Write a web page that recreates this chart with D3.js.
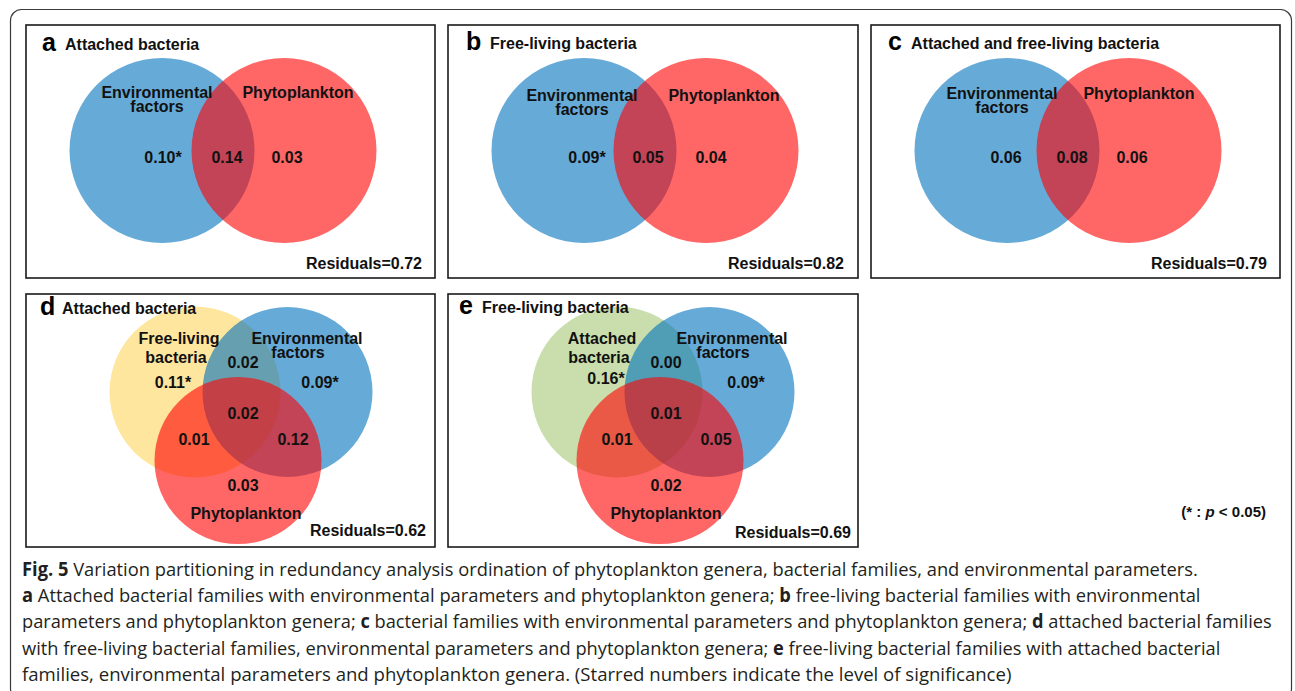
<!DOCTYPE html>
<html>
<head>
<meta charset="utf-8">
<script src="https://cdn.jsdelivr.net/npm/d3@7"></script>
<style>
  html, body { margin: 0; padding: 0; background: #fff; }
  svg { display: block; }
</style>
</head>
<body>
<script>
// ---- data ----
const panelLetters = ["a", "b", "c", "d", "e"];
const panelTitles = ["Attached bacteria", "Free-living bacteria", "Attached and free-living bacteria",
                     "Attached bacteria", "Free-living bacteria"];

// set names (each a list of label lines)
const setsTwo = [["Environmental", "factors"], ["Phytoplankton"]];
const setsD = [["Free-living", "bacteria"], ["Environmental", "factors"], ["Phytoplankton"]];
const setsE = [["Attached", "bacteria"], ["Environmental", "factors"], ["Phytoplankton"]];

// two-set fractions: [environment only, shared, phytoplankton only]
const valuesA = [0.10, 0.14, 0.03];
const valuesB = [0.09, 0.05, 0.04];
const valuesC = [0.06, 0.08, 0.06];
const signifA = [true, false, false];
const signifB = [true, false, false];
const signifC = [false, false, false];

// three-set fractions: [bacteria only, bact∩env, env only, all three, bact∩phyto, env∩phyto, phyto only]
const valuesD = [0.11, 0.02, 0.09, 0.02, 0.01, 0.12, 0.03];
const valuesE = [0.16, 0.00, 0.09, 0.01, 0.01, 0.05, 0.02];
const signifD = [true, false, true, false, false, false, false];
const signifE = [true, false, true, false, false, false, false];

const residuals = [0.72, 0.82, 0.79, 0.62, 0.69];

const captionLines = [
  [["Fig. 5", true], ["  Variation partitioning in redundancy analysis ordination of phytoplankton genera, bacterial families, and environmental parameters.", false]],
  [["a", true], [" Attached bacterial families with environmental parameters and phytoplankton genera; ", false], ["b", true], [" free-living bacterial families with environmental", false]],
  [["parameters and phytoplankton genera; ", false], ["c", true], [" bacterial families with environmental parameters and phytoplankton genera; ", false], ["d", true], [" attached bacterial families", false]],
  [["with free-living bacterial families, environmental parameters and phytoplankton genera; ", false], ["e", true], [" free-living bacterial families with attached bacterial", false]],
  [["families, environmental parameters and phytoplankton genera. (Starred numbers indicate the level of significance)", false]]
];
// right end of each caption line
const captionEnds = [1198, 1201, 1273, 1222, 1012];

// ---- layout ----
const W = 1295, H = 691;
const boxes = [
  {x: 26, y: 25, w: 409, h: 253},
  {x: 448, y: 25, w: 410, h: 253},
  {x: 871, y: 25, w: 409, h: 253},
  {x: 26, y: 294, w: 409, h: 253},
  {x: 448, y: 294, w: 410, h: 253}
];
const titlePos = [
  {lx: 16, tx: 39, y: 19}, {lx: 18, tx: 42, y: 18}, {lx: 17, tx: 40, y: 18},
  {lx: 14, tx: 36, y: 14}, {lx: 11, tx: 34, y: 13}
];

const BLUE = "rgba(0,114,189,0.6)";
const RED = "rgba(255,0,0,0.6)";
const YELLOW = "rgba(255,200,40,0.45)";
const GREEN = "rgba(119,172,48,0.4)";

const FONT = "'Liberation Sans', Arial, Helvetica, sans-serif";
const fmt = d3.format(".2f");

const svg = d3.select("body").append("svg")
  .attr("width", W).attr("height", H)
  .attr("viewBox", `0 0 ${W} ${H}`);

// outer frame
svg.append("rect")
  .attr("x", 10.5).attr("y", 9.5).attr("width", 1281).attr("height", 690)
  .attr("rx", 11).attr("fill", "none").attr("stroke", "#3a3a3a").attr("stroke-width", 1.2);

function label(g, lines, x, y, lh) {
  const t = g.append("text")
    .attr("text-anchor", "middle")
    .attr("font-family", FONT).attr("font-weight", "bold").attr("font-size", 16)
    .attr("fill", "#111");
  lines.forEach((s, i) => {
    t.append("tspan").attr("x", x).attr("y", y + i * lh)
      .attr("dominant-baseline", "central").text(s);
  });
}

function valueText(g, v, sig, x, y) {
  g.append("text")
    .attr("x", x).attr("y", y)
    .attr("text-anchor", "middle").attr("dominant-baseline", "central")
    .attr("font-family", FONT).attr("font-weight", "bold").attr("font-size", 16)
    .attr("fill", "#111")
    .text(fmt(v) + (sig ? "*" : ""));
}

function panelFrame(i) {
  const b = boxes[i];
  const g = svg.append("g").attr("transform", `translate(${b.x},${b.y})`);
  g.append("rect").attr("x", 0).attr("y", 0).attr("width", b.w).attr("height", b.h)
    .attr("fill", "#fff").attr("stroke", "#1a1a1a").attr("stroke-width", 1.6);
  return g;
}

function panelTitle(g, i) {
  const p = titlePos[i];
  g.append("text").attr("x", p.lx).attr("y", p.y + 6.5)
    .attr("font-family", FONT).attr("font-weight", "bold").attr("font-size", 25)
    .attr("fill", "#000").text(panelLetters[i]);
  g.append("text").attr("x", p.tx).attr("y", p.y).attr("dominant-baseline", "central")
    .attr("font-family", FONT).attr("font-weight", "bold").attr("font-size", 16)
    .attr("fill", "#111").text(panelTitles[i]);
}

function residualText(g, i, x, y) {
  g.append("text").attr("x", x).attr("y", y)
    .attr("text-anchor", "end").attr("dominant-baseline", "central")
    .attr("font-family", FONT).attr("font-weight", "bold").attr("font-size", 16)
    .attr("fill", "#111").text("Residuals=" + fmt(residuals[i]));
}

// ---- two-set panels (a, b, c) ----
const twoCircles = [{cx: 136, cy: 125.5, fill: BLUE}, {cx: 258, cy: 125.5, fill: RED}];
const twoR = 92.5;
const twoLabelPos = [
  [{x: 131, y: 67}, {x: 272, y: 67}],
  [{x: 134, y: 70}, {x: 276, y: 70}],
  [{x: 131, y: 68}, {x: 268, y: 68}]
];
const twoValueX = [
  [137, 201, 261], [139, 200, 263], [135, 201, 261]
];
const twoValues = [valuesA, valuesB, valuesC];
const twoSignif = [signifA, signifB, signifC];

[0, 1, 2].forEach(i => {
  const g = panelFrame(i);
  g.selectAll("circle.set").data(twoCircles).join("circle")
    .attr("class", "set")
    .attr("cx", d => d.cx).attr("cy", d => d.cy).attr("r", twoR)
    .attr("fill", d => d.fill);
  panelTitle(g, i);
  setsTwo.forEach((s, k) => label(g, s, twoLabelPos[i][k].x, twoLabelPos[i][k].y, 14));
  twoValues[i].forEach((v, k) => valueText(g, v, twoSignif[i][k], twoValueX[i][k], 132));
  residualText(g, i, 396, 238);
});

// ---- three-set panels (d, e) ----
const threeCircles = [
  {cx: 169, cy: 98, r: 85.5},
  {cx: 261.5, cy: 98, r: 85},
  {cx: 212, cy: 166.5, r: 83.5}
];
const threeFills = [[YELLOW, BLUE, RED], [GREEN, BLUE, RED]];
const threeSets = [setsD, setsE];
const threeLabelPos = [
  [{x: 153, y: 44, lh: 19}, {x: 281, y: 44, lh: 14}, {x: 220, y: 219, lh: 14}],
  [{x: 154, y: 44, lh: 19}, {x: 284, y: 44, lh: 14}, {x: 218, y: 219, lh: 14}]
];
const threeValuePos = [
  [[147, 88], [217, 68], [294, 88], [217, 119], [168, 145], [267, 145], [217, 191]],
  [[158, 84], [218, 68], [298, 88], [218, 119], [169, 145], [268, 145], [218, 191]]
];
const threeValues = [valuesD, valuesE];
const threeSignif = [signifD, signifE];

[3, 4].forEach((i, j) => {
  const g = panelFrame(i);
  panelTitle(g, i);
  g.selectAll("circle.set").data(threeCircles).join("circle")
    .attr("class", "set")
    .attr("cx", d => d.cx).attr("cy", d => d.cy).attr("r", d => d.r)
    .attr("fill", (d, k) => threeFills[j][k]);
  // label lines of the first two sets sit slightly left of their first line
  threeSets[j].forEach((s, k) => {
    const p = threeLabelPos[j][k];
    if (k === 1) {
      label(g, [s[0]], p.x, p.y, p.lh);
      label(g, [s[1]], p.x - 9, p.y + p.lh, p.lh);
    } else if (k === 0) {
      label(g, [s[0]], p.x, p.y, p.lh);
      label(g, [s[1]], p.x - 3, p.y + p.lh, p.lh);
    } else {
      label(g, s, p.x, p.y, p.lh);
    }
  });
  threeValues[j].forEach((v, k) =>
    valueText(g, v, threeSignif[j][k], threeValuePos[j][k][0], threeValuePos[j][k][1]));
  residualText(g, i, j === 0 ? 400 : 403, j === 0 ? 236 : 238);
});

// keep every panel's text above its circles
svg.selectAll("g").each(function() {
  d3.select(this).selectAll("text").raise();
});

// significance note
const note = svg.append("text")
  .attr("x", 1266).attr("y", 511)
  .attr("text-anchor", "end").attr("dominant-baseline", "central")
  .attr("font-family", FONT).attr("font-weight", "bold").attr("font-size", 15)
  .attr("fill", "#111");
note.append("tspan").text("(* : ");
note.append("tspan").attr("font-style", "italic").text("p");
note.append("tspan").text(" < 0.05)");

// ---- caption ----
const capX = 22, capY0 = 576, capLH = 26.2;
const capFont = "'Open Sans', 'Noto Sans', sans-serif";
const capG = svg.append("g");
captionLines.forEach((segs, li) => {
  const g = capG.append("g");
  const t = g.append("text").attr("x", 0).attr("y", 0)
    .attr("font-family", capFont).attr("font-size", 19).attr("fill", "#231f20");
  segs.forEach(([s, b]) => {
    t.append("tspan").attr("font-weight", b ? "bold" : "normal").text(s);
  });
  // condense each line horizontally to its measured extent
  const len = t.node().getComputedTextLength();
  const sx = (captionEnds[li] - capX) / len;
  g.attr("transform", `translate(${capX},${capY0 + li * capLH}) scale(${sx},1)`);
});
</script>
</body>
</html>
